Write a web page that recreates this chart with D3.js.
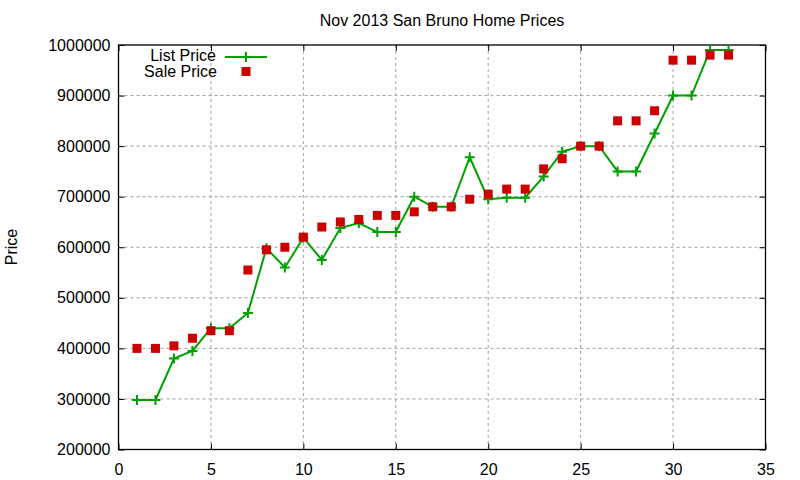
<!DOCTYPE html>
<html><head><meta charset="utf-8">
<script src="https://cdn.jsdelivr.net/npm/d3@7"></script>
<style>body{margin:0;background:#fff}svg{display:block}text{font-family:"Liberation Sans",Arial,sans-serif;fill:#000}</style>
</head><body><svg id="c" width="800" height="480"></svg>
<script>
const houses = d3.range(1, 34);
const listPrice = [298000,298000,380000,395000,440000,440000,470000,598000,560000,619000,575000,638000,648000,630000,630000,700000,680000,680000,778000,695000,698000,698000,740000,789000,800000,800000,750000,750000,825000,900000,900000,990000,990000];
const salePrice = [400000,400000,405000,420000,435000,435000,555000,595000,600000,620000,640000,650000,655000,663000,663000,670000,680000,680000,695000,705000,715000,715000,755000,775000,800000,800000,850000,850000,870000,970000,970000,980000,980000];
const xTicks = [0,5,10,15,20,25,30,35];
const yTicks = [200000,300000,400000,500000,600000,700000,800000,900000,1000000];
const title = "Nov 2013 San Bruno Home Prices";
const yLabel = "Price";
const seriesNames = ["List Price","Sale Price"];

const svg = d3.select("#c");
const L=118.5, R=765.5, T=45, B=449.5;
const x = d3.scaleLinear().domain([0,35]).range([L,R]);
const y = d3.scaleLinear().domain([200000,1000000]).range([B,T]);

// grid
const g = svg.append("g");
g.selectAll(".gx").data(xTicks.slice(1,-1)).enter().append("line")
 .attr("x1",d=>x(d)).attr("x2",d=>x(d)).attr("y1",T).attr("y2",B)
 .attr("stroke","#a0a0a0").attr("stroke-width",1).attr("stroke-dasharray","3,3");
g.selectAll(".gy").data(yTicks.slice(1,-1)).enter().append("line")
 .attr("x1",L).attr("x2",R).attr("y1",d=>y(d)).attr("y2",d=>y(d))
 .attr("stroke","#a0a0a0").attr("stroke-width",1).attr("stroke-dasharray","3,3");

// axes
const ax = svg.append("g").attr("transform",`translate(0,${B})`)
 .call(d3.axisBottom(x).tickValues(xTicks).tickSize(-6).tickPadding(14).tickFormat(d3.format("d")));
const ay = svg.append("g").attr("transform",`translate(${L},0)`)
 .call(d3.axisLeft(y).tickValues(yTicks).tickSize(-6).tickPadding(8).tickFormat(d3.format("d")));
const axT = svg.append("g").attr("transform",`translate(0,${T})`)
 .call(d3.axisTop(x).tickValues(xTicks).tickSize(-6).tickFormat(""));
const ayR = svg.append("g").attr("transform",`translate(${R},0)`)
 .call(d3.axisRight(y).tickValues(yTicks).tickSize(-6).tickFormat(""));
[ax,ay,axT,ayR].forEach(a=>{
  a.select(".domain").remove();
  a.selectAll("line").attr("stroke","#000");
  a.selectAll("text").style("font-size","16px").style("font-family","'Liberation Sans',Arial,sans-serif").attr("fill","#000");
});
svg.append("rect").attr("x",L).attr("y",T).attr("width",R-L).attr("height",B-T)
 .attr("fill","none").attr("stroke","#000").attr("stroke-width",1.3);

// title & label
svg.append("text").attr("x",(L+R)/2).attr("y",26).attr("text-anchor","middle").style("font-size","16px").text(title);
svg.append("text").attr("transform","translate(17,247) rotate(-90)").attr("text-anchor","middle").style("font-size","16px").text(yLabel);

const green="#00a000", red="#cc0000";
// list line
svg.append("path").datum(houses.map((h,i)=>[h,listPrice[i]]))
 .attr("d",d3.line().x(d=>x(d[0])).y(d=>y(d[1])))
 .attr("fill","none").attr("stroke",green).attr("stroke-width",2);
const plus = (sel, cx, cy) => sel.append("path").attr("d",`M${cx-5},${cy}H${cx+5}M${cx},${cy-5}V${cy+5}`).attr("stroke",green).attr("stroke-width",2);
houses.forEach((h,i)=>plus(svg, x(h), y(listPrice[i])));
// sale squares
svg.selectAll(".sq").data(houses).enter().append("rect")
 .attr("x",(d,i)=>x(d)-4.5).attr("y",(d,i)=>y(salePrice[i])-4.5).attr("width",9).attr("height",9).attr("fill",red);

// legend
svg.append("text").attr("x",216).attr("y",61).attr("text-anchor","end").style("font-size","16px").text(seriesNames[0]);
svg.append("text").attr("x",217).attr("y",77).attr("text-anchor","end").style("font-size","16px").text(seriesNames[1]);
svg.append("line").attr("x1",225).attr("x2",267).attr("y1",57).attr("y2",57).attr("stroke",green).attr("stroke-width",2);
plus(svg,246,57);
svg.append("rect").attr("x",241.5).attr("y",67).attr("width",9).attr("height",9).attr("fill",red);
</script></body></html>
